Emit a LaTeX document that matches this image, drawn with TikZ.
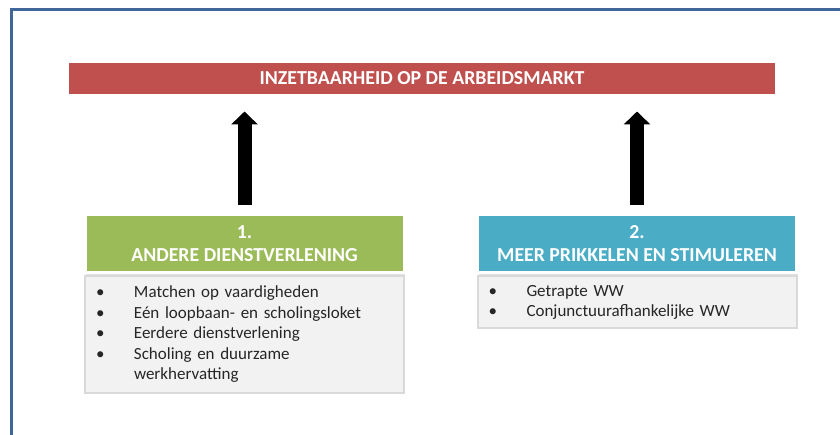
\documentclass[tikz,border=0pt]{standalone}
\usepackage{fontspec}
\setmainfont{Carlito}
\usetikzlibrary{positioning,arrows.meta,shadows}

\definecolor{kader}{HTML}{41679A}
\definecolor{arbeidsrood}{HTML}{C0504D}
\definecolor{dienstgroen}{HTML}{9BBB59}
\definecolor{prikkelblauw}{HTML}{4BACC6}
\definecolor{lijstgrijs}{HTML}{F2F2F2}
\definecolor{lijstrand}{HTML}{D9D9D9}

\begin{document}
\begin{tikzpicture}[
    x=1pt, y=-1pt,
    every node/.style={inner sep=0pt, outer sep=0pt},
    balk/.style={draw=white, line width=3pt, text=white,
        font=\bfseries\fontsize{19.8}{23}\selectfont, align=center,
        drop shadow={opacity=0.25, shadow xshift=1pt, shadow yshift=-2pt}},
    lijst/.style={draw=lijstrand, fill=lijstgrijs, line width=2pt,
        minimum width=319pt, text width=297pt, align=left,
        text=black!85, font=\fontsize{17}{20.5}\selectfont,
        drop shadow={opacity=0.15, shadow xshift=1pt, shadow yshift=-1pt}},
    pijl/.style={line width=14pt,
        -{Triangle[width=26pt, length=13pt]}}
]
    % frame
    \useasboundingbox (0,0) rectangle (840,435);
    \draw[kader, line width=3pt] (11,440) -- (11,9.5) -- (845,9.5);

    % Top bar
    \node[balk, fill=arbeidsrood, minimum width=709pt, minimum height=34pt]
        (inzet) at (422,78.5) {INZETBAARHEID OP DE ARBEIDSMARKT};

    % Headers
    \node[balk, fill=dienstgroen, minimum width=319pt, minimum height=58pt]
        (dienst) at (244.5,244) {1.\\ANDERE DIENSTVERLENING};
    \node[balk, fill=prikkelblauw, minimum width=319pt, minimum height=58pt]
        (prikkel) at (637,244) {2.\\MEER PRIKKELEN EN STIMULEREN};

    % Lists under the headers
    \node[lijst, minimum height=116pt, below=3.5pt of dienst] (dienstlijst) {%
        \begin{tabular}{@{}p{38pt}@{}p{259pt}@{}}
        \textbullet & Matchen op vaardigheden\\
        \textbullet & Eén loopbaan- en scholingsloket\\
        \textbullet & Eerdere dienstverlening\\
        \textbullet & Scholing en duurzame\newline werkhervatting
        \end{tabular}};
    \node[lijst, minimum height=52pt, below=3.5pt of prikkel] (prikkellijst) {%
        \begin{tabular}{@{}p{38pt}@{}p{259pt}@{}}
        \textbullet & Getrapte WW\\
        \textbullet & Conjunctuurafhankelijke WW
        \end{tabular}};

    % Arrows up to the top bar
    \draw[pijl, shorten <=10pt, shorten >=16pt] (dienst.north) -- (dienst.north |- inzet.south);
    \draw[pijl, shorten <=10pt, shorten >=16pt] (prikkel.north) -- (prikkel.north |- inzet.south);
\end{tikzpicture}
\end{document}
